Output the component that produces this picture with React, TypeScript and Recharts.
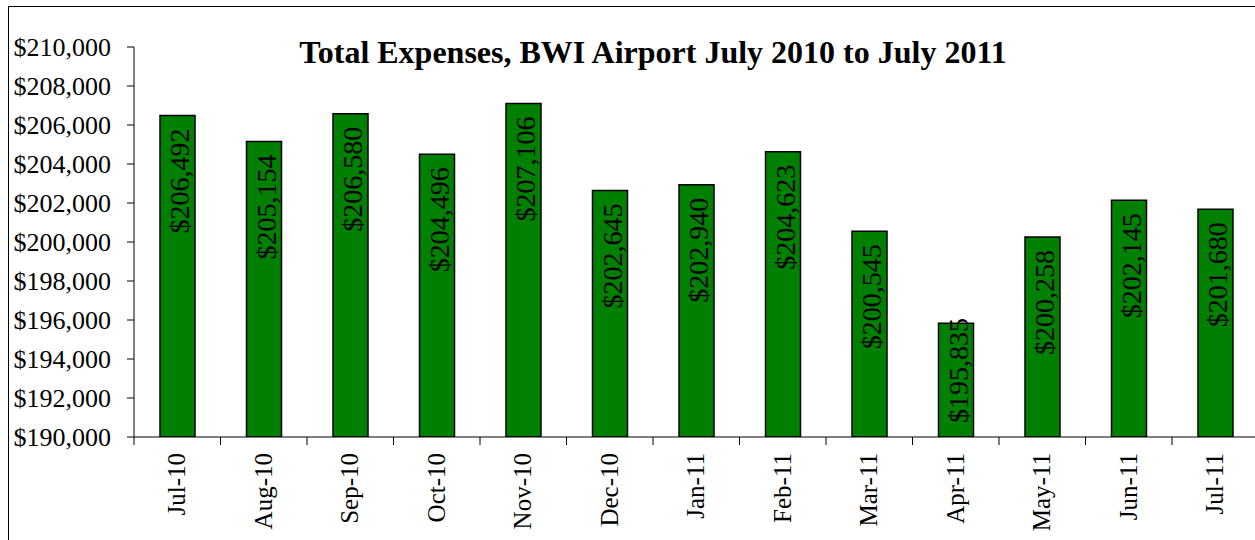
import { Bar, BarChart, LabelList, XAxis, YAxis } from "recharts";

const months = ["Jul-10", "Aug-10", "Sep-10", "Oct-10", "Nov-10", "Dec-10", "Jan-11", "Feb-11", "Mar-11", "Apr-11", "May-11", "Jun-11", "Jul-11"];
const expenses = [206492, 205154, 206580, 204496, 207106, 202645, 202940, 204623, 200545, 195835, 200258, 202145, 201680];
const yTicks = [190000, 192000, 194000, 196000, 198000, 200000, 202000, 204000, 206000, 208000, 210000];
const title = "Total Expenses, BWI Airport July 2010 to July 2011";

const data = months.map((m, i) => ({ month: m, value: expenses[i] }));

const FONT = "'Liberation Serif', 'Times New Roman', serif";
const CHART_W = 1270;
const CHART_H = 540;
const Y_AXIS_W = 134;
const RIGHT = 11.5;
const BAND = (CHART_W - Y_AXIS_W - RIGHT) / months.length;

const money = (v: number) => "$" + v.toLocaleString("en-US");

function ValueTick(props: any) {
  const { x, y, payload } = props;
  return (
    <text x={x} y={y} textAnchor="end" dy={9} style={{ fontFamily: FONT, fontSize: 26 }} fill="#000">
      {money(payload.value)}
    </text>
  );
}

function MonthTick(props: any) {
  const { x, y, payload } = props;
  const left = x - BAND / 2;
  return (
    <g>
      <line x1={left} y1={y} x2={left} y2={y + 8} stroke="#000" strokeWidth={1} />
      <text
        x={x}
        y={y + 16}
        transform={`rotate(-90, ${x}, ${y + 16})`}
        textAnchor="end"
        dy={8}
        style={{ fontFamily: FONT, fontSize: 25 }}
        fill="#000"
      >
        {payload.value}
      </text>
    </g>
  );
}

function BarValue(props: any) {
  const { x, y, width, height, value } = props;
  const cx = x + width / 2;
  const top = Math.min(y + 13, y + height - 119);
  return (
    <text
      x={cx}
      y={top}
      transform={`rotate(-90, ${cx}, ${top})`}
      textAnchor="end"
      dy={12}
      style={{ fontFamily: FONT, fontSize: 28 }}
      fill="#000"
    >
      {money(value)}
    </text>
  );
}

export default function App() {
  return (
    <div style={{ position: "fixed", left: 0, top: 0, width: 1255, height: 540, overflow: "hidden", background: "#fff", fontFamily: FONT }}>
      <div style={{ position: "absolute", left: 8, top: 6, width: 1300, height: 600, borderLeft: "1.5px solid #000", borderTop: "1.5px solid #000" }} />
      <BarChart width={CHART_W} height={CHART_H} data={data} margin={{ top: 47, right: RIGHT, bottom: 0, left: 0 }}>
        <YAxis
          width={Y_AXIS_W}
          domain={[190000, 210000]}
          ticks={yTicks}
          allowDataOverflow
          tickSize={7}
          tickMargin={16}
          axisLine={{ stroke: "#000" }}
          tickLine={{ stroke: "#000" }}
          tick={<ValueTick />}
        />
        <XAxis
          dataKey="month"
          height={103}
          interval={0}
          tickSize={0}
          tickMargin={0}
          tickLine={false}
          axisLine={{ stroke: "#000" }}
          tick={<MonthTick />}
        />
        <Bar dataKey="value" fill="#008000" stroke="#000" strokeWidth={1.5} barSize={35} isAnimationActive={false}>
          <LabelList dataKey="value" content={<BarValue />} />
        </Bar>
      </BarChart>
      <svg width={1255} height={540} style={{ position: "absolute", left: 0, top: 0, pointerEvents: "none" }}>
        <text x={653} y={63} textAnchor="middle" style={{ fontFamily: FONT, fontSize: 32, fontWeight: "bold" }} fill="#000">
          {title}
        </text>
      </svg>
    </div>
  );
}
